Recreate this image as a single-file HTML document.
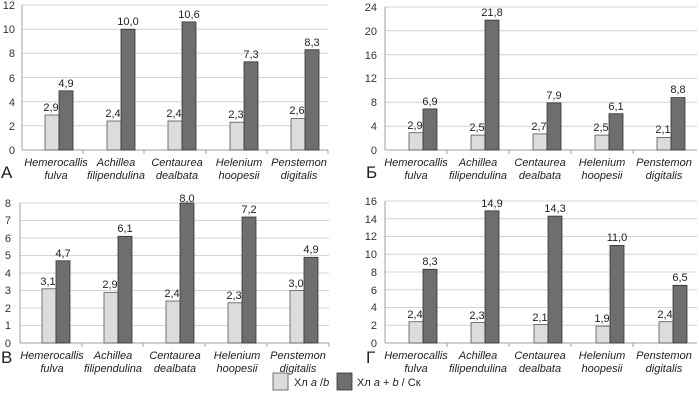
<!DOCTYPE html>
<html><head><meta charset="utf-8"><style>
html,body{margin:0;padding:0;background:#fff;}
svg{display:block;font-family:"Liberation Sans",Arial,sans-serif;}
.g{stroke:#d4d4d4;stroke-width:1}
.ax{stroke:#a0a0a0;stroke-width:1}
.l{fill:#dcdcdc;stroke:#555;stroke-width:0.8}
.d{fill:#6e6e6e;stroke:#333;stroke-width:0.8}
.yt{font-size:11px;fill:#333;text-anchor:end}
.v{font-size:11px;fill:#222;text-anchor:middle}
.c{font-size:11px;font-style:italic;fill:#222;text-anchor:middle}
.p{font-size:17px;fill:#222}
</style></head><body>
<svg width="699" height="401" viewBox="0 0 699 401">
<!-- Panel A -->
<g>
<line class="g" x1="22" x2="328" y1="5" y2="5"/><line class="g" x1="22" x2="328" y1="29.2" y2="29.2"/><line class="g" x1="22" x2="328" y1="53.3" y2="53.3"/><line class="g" x1="22" x2="328" y1="77.5" y2="77.5"/><line class="g" x1="22" x2="328" y1="101.7" y2="101.7"/><line class="g" x1="22" x2="328" y1="125.8" y2="125.8"/>
<line class="ax" x1="22" x2="22" y1="5" y2="150"/><line class="ax" x1="22" x2="328" y1="150" y2="150"/>
<line class="ax" x1="83" x2="83" y1="150" y2="154"/><line class="ax" x1="144" x2="144" y1="150" y2="154"/><line class="ax" x1="206" x2="206" y1="150" y2="154"/><line class="ax" x1="267" x2="267" y1="150" y2="154"/><line class="ax" x1="328" x2="328" y1="150" y2="154"/>
<text class="yt" x="15" y="154">0</text><text class="yt" x="15" y="130">2</text><text class="yt" x="15" y="106">4</text><text class="yt" x="15" y="82">6</text><text class="yt" x="15" y="57">8</text><text class="yt" x="15" y="33">10</text><text class="yt" x="15" y="9">12</text>
<rect class="l" x="45" y="115" width="14" height="35"/><rect class="d" x="59" y="90.8" width="14" height="59.2"/>
<rect class="l" x="107" y="121" width="14" height="29"/><rect class="d" x="121" y="29.2" width="14" height="120.8"/>
<rect class="l" x="168" y="121" width="14" height="29"/><rect class="d" x="182" y="21.9" width="14" height="128.1"/>
<rect class="l" x="230" y="122.2" width="14" height="27.8"/><rect class="d" x="244" y="61.8" width="14" height="88.2"/>
<rect class="l" x="291" y="118.6" width="14" height="31.4"/><rect class="d" x="305" y="49.7" width="14" height="100.3"/>
<text class="v" x="51" y="111">2,9</text><text class="v" x="66" y="87">4,9</text>
<text class="v" x="113" y="117">2,4</text><text class="v" x="128" y="25">10,0</text>
<text class="v" x="174" y="117">2,4</text><text class="v" x="189" y="18">10,6</text>
<text class="v" x="236" y="118">2,3</text><text class="v" x="251" y="58">7,3</text>
<text class="v" x="297" y="114">2,6</text><text class="v" x="312" y="46">8,3</text>
<text class="c" x="56" y="166">Hemerocallis</text><text class="c" x="56" y="179">fulva</text>
<text class="c" x="116" y="166">Achillea</text><text class="c" x="116" y="179">filipendulina</text>
<text class="c" x="177" y="166">Centaurea</text><text class="c" x="177" y="179">dealbata</text>
<text class="c" x="239" y="166">Helenium</text><text class="c" x="239" y="179">hoopesii</text>
<text class="c" x="299" y="166">Penstemon</text><text class="c" x="299" y="179">digitalis</text>
<text class="p" x="1" y="178">А</text>
</g>
<!-- Panel Б -->
<g>
<line class="g" x1="385" x2="697" y1="7" y2="7"/><line class="g" x1="385" x2="697" y1="30.8" y2="30.8"/><line class="g" x1="385" x2="697" y1="54.7" y2="54.7"/><line class="g" x1="385" x2="697" y1="78.5" y2="78.5"/><line class="g" x1="385" x2="697" y1="102.3" y2="102.3"/><line class="g" x1="385" x2="697" y1="126.2" y2="126.2"/>
<line class="ax" x1="385" x2="385" y1="7" y2="150"/><line class="ax" x1="385" x2="697" y1="150" y2="150"/>
<line class="ax" x1="447" x2="447" y1="150" y2="154"/><line class="ax" x1="509" x2="509" y1="150" y2="154"/><line class="ax" x1="571" x2="571" y1="150" y2="154"/><line class="ax" x1="633" x2="633" y1="150" y2="154"/>
<text class="yt" x="377" y="154">0</text><text class="yt" x="377" y="130">4</text><text class="yt" x="377" y="106">8</text><text class="yt" x="377" y="82">12</text><text class="yt" x="377" y="59">16</text><text class="yt" x="377" y="35">20</text><text class="yt" x="377" y="11">24</text>
<rect class="l" x="409" y="132.7" width="14" height="17.3"/><rect class="d" x="423" y="108.9" width="14" height="41.1"/>
<rect class="l" x="471" y="135.1" width="14" height="14.9"/><rect class="d" x="485" y="20.1" width="14" height="129.9"/>
<rect class="l" x="533" y="133.9" width="14" height="16.1"/><rect class="d" x="547" y="102.9" width="14" height="47.1"/>
<rect class="l" x="595" y="135.1" width="14" height="14.9"/><rect class="d" x="609" y="113.7" width="14" height="36.3"/>
<rect class="l" x="657" y="137.5" width="14" height="12.5"/><rect class="d" x="671" y="97.6" width="14" height="52.4"/>
<text class="v" x="415" y="129">2,9</text><text class="v" x="430" y="105">6,9</text>
<text class="v" x="477" y="131">2,5</text><text class="v" x="492" y="16">21,8</text>
<text class="v" x="539" y="130">2,7</text><text class="v" x="554" y="99">7,9</text>
<text class="v" x="601" y="131">2,5</text><text class="v" x="616" y="110">6,1</text>
<text class="v" x="663" y="133">2,1</text><text class="v" x="678" y="93">8,8</text>
<text class="c" x="416" y="166">Hemerocallis</text><text class="c" x="416" y="179">fulva</text>
<text class="c" x="478" y="166">Achillea</text><text class="c" x="478" y="179">filipendulina</text>
<text class="c" x="540" y="166">Centaurea</text><text class="c" x="540" y="179">dealbata</text>
<text class="c" x="602" y="166">Helenium</text><text class="c" x="602" y="179">hoopesii</text>
<text class="c" x="664" y="166">Penstemon</text><text class="c" x="664" y="179">digitalis</text>
<text class="p" x="366" y="178">Б</text>
</g>
<!-- Panel В -->
<g>
<line class="g" x1="20" x2="329" y1="203" y2="203"/><line class="g" x1="20" x2="329" y1="220.5" y2="220.5"/><line class="g" x1="20" x2="329" y1="238" y2="238"/><line class="g" x1="20" x2="329" y1="255.5" y2="255.5"/><line class="g" x1="20" x2="329" y1="273" y2="273"/><line class="g" x1="20" x2="329" y1="290.5" y2="290.5"/><line class="g" x1="20" x2="329" y1="308" y2="308"/><line class="g" x1="20" x2="329" y1="325.5" y2="325.5"/>
<line class="ax" x1="20" x2="20" y1="203" y2="343"/><line class="ax" x1="20" x2="329" y1="343" y2="343"/>
<line class="ax" x1="82" x2="82" y1="343" y2="347"/><line class="ax" x1="143" x2="143" y1="343" y2="347"/><line class="ax" x1="205" x2="205" y1="343" y2="347"/><line class="ax" x1="267" x2="267" y1="343" y2="347"/><line class="ax" x1="329" x2="329" y1="343" y2="347"/>
<text class="yt" x="11" y="347">0</text><text class="yt" x="11" y="329">1</text><text class="yt" x="11" y="312">2</text><text class="yt" x="11" y="294">3</text><text class="yt" x="11" y="277">4</text><text class="yt" x="11" y="259">5</text><text class="yt" x="11" y="242">6</text><text class="yt" x="11" y="224">7</text><text class="yt" x="11" y="207">8</text>
<rect class="l" x="42" y="288.8" width="14" height="54.2"/><rect class="d" x="56" y="260.8" width="14" height="82.2"/>
<rect class="l" x="104" y="292.3" width="14" height="50.7"/><rect class="d" x="118" y="236.3" width="14" height="106.7"/>
<rect class="l" x="166" y="301" width="14" height="42"/><rect class="d" x="180" y="203" width="14" height="140"/>
<rect class="l" x="228" y="302.8" width="14" height="40.2"/><rect class="d" x="242" y="217" width="14" height="126"/>
<rect class="l" x="290" y="290.5" width="14" height="52.5"/><rect class="d" x="304" y="257.3" width="14" height="85.7"/>
<text class="v" x="48" y="285">3,1</text><text class="v" x="63" y="257">4,7</text>
<text class="v" x="110" y="288">2,9</text><text class="v" x="125" y="232">6,1</text>
<text class="v" x="172" y="297">2,4</text><text class="v" x="187" y="202">8,0</text>
<text class="v" x="234" y="299">2,3</text><text class="v" x="249" y="213">7,2</text>
<text class="v" x="296" y="287">3,0</text><text class="v" x="311" y="253">4,9</text>
<text class="c" x="52" y="359">Hemerocallis</text><text class="c" x="52" y="372">fulva</text>
<text class="c" x="113" y="359">Achillea</text><text class="c" x="113" y="372">filipendulina</text>
<text class="c" x="175" y="359">Centaurea</text><text class="c" x="175" y="372">dealbata</text>
<text class="c" x="237" y="359">Helenium</text><text class="c" x="237" y="372">hoopesii</text>
<text class="c" x="298" y="359">Penstemon</text><text class="c" x="298" y="372">digitalis</text>
<text class="p" x="1" y="363">В</text>
</g>
<!-- Panel Г -->
<g>
<line class="g" x1="385" x2="697" y1="201" y2="201"/><line class="g" x1="385" x2="697" y1="218.75" y2="218.75"/><line class="g" x1="385" x2="697" y1="236.5" y2="236.5"/><line class="g" x1="385" x2="697" y1="254.25" y2="254.25"/><line class="g" x1="385" x2="697" y1="272" y2="272"/><line class="g" x1="385" x2="697" y1="289.75" y2="289.75"/><line class="g" x1="385" x2="697" y1="307.5" y2="307.5"/><line class="g" x1="385" x2="697" y1="325.25" y2="325.25"/>
<line class="ax" x1="385" x2="385" y1="201" y2="343"/><line class="ax" x1="385" x2="697" y1="343" y2="343"/>
<line class="ax" x1="447" x2="447" y1="343" y2="347"/><line class="ax" x1="509" x2="509" y1="343" y2="347"/><line class="ax" x1="571" x2="571" y1="343" y2="347"/><line class="ax" x1="633" x2="633" y1="343" y2="347"/>
<text class="yt" x="377" y="347">0</text><text class="yt" x="377" y="329">2</text><text class="yt" x="377" y="311">4</text><text class="yt" x="377" y="294">6</text><text class="yt" x="377" y="276">8</text><text class="yt" x="377" y="258">10</text><text class="yt" x="377" y="240">12</text><text class="yt" x="377" y="223">14</text><text class="yt" x="377" y="205">16</text>
<rect class="l" x="409" y="321.7" width="14" height="21.3"/><rect class="d" x="423" y="269.3" width="14" height="73.7"/>
<rect class="l" x="471" y="322.6" width="14" height="20.4"/><rect class="d" x="485" y="210.8" width="14" height="132.2"/>
<rect class="l" x="534" y="324.4" width="14" height="18.6"/><rect class="d" x="548" y="216.1" width="14" height="126.9"/>
<rect class="l" x="596" y="326.1" width="14" height="16.9"/><rect class="d" x="610" y="245.4" width="14" height="97.6"/>
<rect class="l" x="659" y="321.7" width="14" height="21.3"/><rect class="d" x="673" y="285.3" width="14" height="57.7"/>
<text class="v" x="415" y="318">2,4</text><text class="v" x="430" y="265">8,3</text>
<text class="v" x="477" y="319">2,3</text><text class="v" x="492" y="207">14,9</text>
<text class="v" x="540" y="321">2,1</text><text class="v" x="555" y="212">14,3</text>
<text class="v" x="602" y="322">1,9</text><text class="v" x="617" y="241">11,0</text>
<text class="v" x="665" y="318">2,4</text><text class="v" x="680" y="281">6,5</text>
<text class="c" x="416" y="359">Hemerocallis</text><text class="c" x="416" y="372">fulva</text>
<text class="c" x="478" y="359">Achillea</text><text class="c" x="478" y="372">filipendulina</text>
<text class="c" x="540" y="359">Centaurea</text><text class="c" x="540" y="372">dealbata</text>
<text class="c" x="602" y="359">Helenium</text><text class="c" x="602" y="372">hoopesii</text>
<text class="c" x="664" y="359">Penstemon</text><text class="c" x="664" y="372">digitalis</text>
<text class="p" x="366" y="363">Г</text>
</g>
<!-- Legend -->
<rect class="l" x="273" y="373" width="15" height="17"/>
<text x="294" y="386" font-size="11" fill="#222">Хл <tspan font-style="italic">a</tspan> /<tspan font-style="italic">b</tspan></text>
<rect class="d" x="337" y="373" width="15" height="17"/>
<text x="357" y="386" font-size="11" fill="#222">Хл <tspan font-style="italic">a</tspan> + <tspan font-style="italic">b</tspan> / Ск</text>
</svg>
</body></html>
